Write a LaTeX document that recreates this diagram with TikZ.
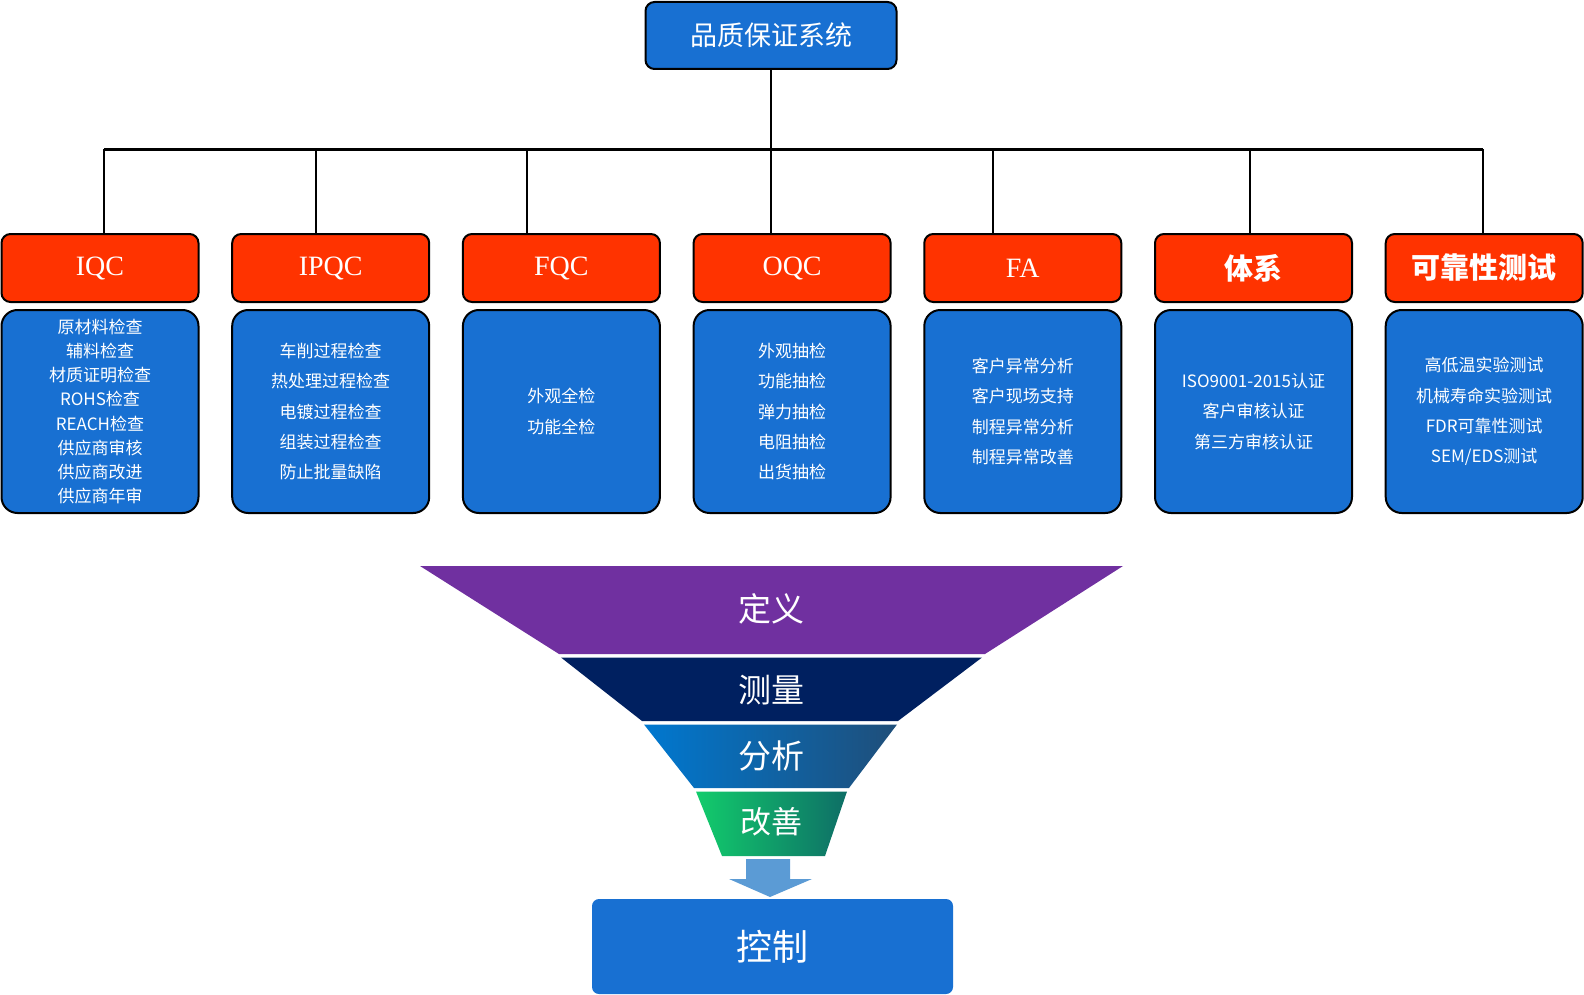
\documentclass[tikz,border=0pt]{standalone}
\usepackage{fontspec}
\setmainfont{Liberation Serif}
\newfontfamily\cjk{Noto Sans CJK SC}
\definecolor{boxblue}{HTML}{1870D2}
\definecolor{boxred}{HTML}{FF3300}
\definecolor{fpurple}{HTML}{7030A0}
\definecolor{fnavy}{HTML}{002060}
\definecolor{fblueA}{HTML}{0078D0}
\definecolor{fblueB}{HTML}{1F4E79}
\definecolor{fgreenA}{HTML}{12CC6C}
\definecolor{fgreenB}{HTML}{0E6E66}
\definecolor{arrowblue}{HTML}{5B9BD5}
\begin{document}
\begin{tikzpicture}[x=1pt,y=-1pt,
  redbox/.style={draw=black,line width=2pt,fill=boxred,rounded corners=9pt,minimum width=197pt,minimum height=68pt,inner sep=0pt,text=white,font=\fontsize{28}{30}\selectfont},
  bluebox/.style={draw=black,line width=2pt,fill=boxblue,rounded corners=16pt,minimum width=197pt,minimum height=203pt,inner sep=0pt,text=white,align=center,font=\cjk\fontsize{17}{30.3}\selectfont},
  conn/.style={draw=black,line width=2.4pt},
  flabel/.style={text=white,font=\cjk\fontsize{33}{36}\selectfont}
]
\useasboundingbox (0,0) rectangle (1584,995);
% top
\node[draw=black,line width=2pt,fill=boxblue,rounded corners=9pt,minimum width=251pt,minimum height=67pt,inner sep=0pt,text=white,font=\cjk\fontsize{27}{30}\selectfont] (top) at (771,35.5) {品质保证系统};
% red headers
\node[redbox] (iqc) at (100,268) {IQC};
\node[redbox] (ipqc) at (330.7,268) {IPQC};
\node[redbox] (fqc) at (561.4,268) {FQC};
\node[redbox] (oqc) at (792.1,268) {OQC};
\node[redbox] (fa) at (1022.8,268) {FA};
\node[redbox,font=\cjk\bfseries\fontsize{29}{30}\selectfont] (tx) at (1253.5,268) {体系};
\node[redbox,font=\cjk\bfseries\fontsize{29}{30}\selectfont] (kk) at (1484.2,268) {可靠性测试};
% blue boxes
\node[bluebox,font=\cjk\fontsize{17}{24.2}\selectfont] (biqc) at (100,411.5) {原材料检查\\辅料检查\\材质证明检查\\ROHS检查\\REACH检查\\供应商审核\\供应商改进\\供应商年审};
\node[bluebox] (bipqc) at (330.7,411.5) {车削过程检查\\热处理过程检查\\电镀过程检查\\组装过程检查\\防止批量缺陷};
\node[bluebox] (bfqc) at (561.4,411.5) {外观全检\\功能全检};
\node[bluebox] (boqc) at (792.1,411.5) {外观抽检\\功能抽检\\弹力抽检\\电阻抽检\\出货抽检};
\node[bluebox] (bfa) at (1022.8,411.5) {客户异常分析\\客户现场支持\\制程异常分析\\制程异常改善};
\node[bluebox] (btx) at (1253.5,411.5) {ISO9001-2015认证\\客户审核认证\\第三方审核认证};
\node[bluebox] (bkk) at (1484.2,411.5) {高低温实验测试\\机械寿命实验测试\\FDR可靠性测试\\SEM/EDS测试};
% connectors
\coordinate (bus) at (0,149.5);
\draw[conn] (top.south) -- (top.south |- oqc.north);
\draw[conn] ([xshift=4]iqc.north |- bus) -- ([xshift=-1.2]kk.north |- bus);
\draw[conn] ([xshift=4]iqc.north) -- ([xshift=4]iqc.north |- bus);
\draw[conn] ([xshift=-14.7]ipqc.north) -- ([xshift=-14.7]ipqc.north |- bus);
\draw[conn] ([xshift=-34.4]fqc.north) -- ([xshift=-34.4]fqc.north |- bus);
\draw[conn] ([xshift=-30]fa.north) -- ([xshift=-30]fa.north |- bus);
\draw[conn] ([xshift=-3.5]tx.north) -- ([xshift=-3.5]tx.north |- bus);
\draw[conn] ([xshift=-1.2]kk.north) -- ([xshift=-1.2]kk.north |- bus);
% funnel
\fill[fpurple] (420,566) -- (1123,566) -- (985,654) -- (559,654) -- cycle;
\fill[fnavy] (561,657.5) -- (982,657.5) -- (898,721) -- (642,721) -- cycle;
\shade[left color=fblueA,right color=fblueB] (644,724.5) -- (897,724.5) -- (849,788) -- (694,788) -- cycle;
\shade[left color=fgreenA,right color=fgreenB] (696,791.5) -- (847,791.5) -- (825,856) -- (722,856) -- cycle;
\node[flabel] (d1) at (771,609) {定义};
\node[flabel] (d2) at (771,690) {测量};
\node[flabel] (d3) at (771,756) {分析};
\node[flabel,font=\cjk\fontsize{31}{34}\selectfont] (d4) at (771,822) {改善};
% arrow
\fill[arrowblue] (746,859) -- (790,859) -- (790,879) -- (812,879) -- (770,897) -- (729,879) -- (746,879) -- cycle;
% control
\node[fill=boxblue,rounded corners=7pt,minimum width=361pt,minimum height=95pt,inner sep=0pt,text=white,font=\cjk\fontsize{36}{40}\selectfont] (ctl) at (772.5,946.5) {控制};
\end{tikzpicture}
\end{document}
